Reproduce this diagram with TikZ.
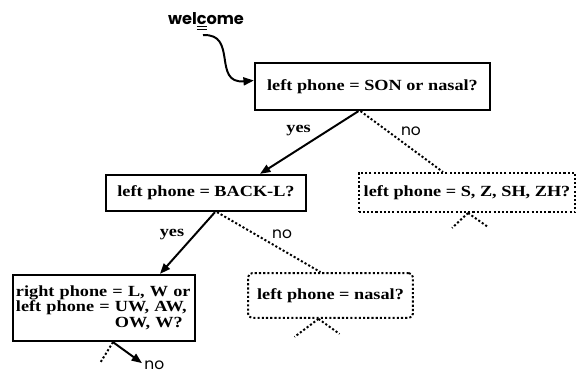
\documentclass[tikz,border=0pt]{standalone}
\usepackage{fontspec}
\usepackage{tikz}
\usetikzlibrary{arrows.meta,positioning,calc}
\setmainfont{Liberation Serif}
\newfontfamily\boxfont[FakeStretch=1.18]{Liberation Serif}
\newfontfamily\geofont{Poppins}
\tikzset{
  treearrow/.style={-{Triangle[length=2.6mm,width=2mm]}, line width=1.4pt},
  treedot/.style={line width=1.4pt, dash pattern=on 1.5pt off 1.5pt},
  yeslabel/.style={font=\fontsize{11}{12}\selectfont\boxfont\bfseries, inner sep=1pt},
  nolabel/.style={font=\fontsize{11}{12}\selectfont\geofont, inner sep=1pt}
}

\begin{document}
\begin{tikzpicture}[
  x=0.025cm, y=-0.025cm,
  font=\fontsize{11}{11}\selectfont\boxfont\bfseries,
  cell/.style={draw, line width=1.6pt, align=center, inner sep=2pt},
  opencell/.style={cell, treedot}
]
\useasboundingbox (0,0) rectangle (577,374);

\node[font=\fontsize{11.5}{13}\selectfont\geofont\bfseries, inner sep=0pt] at (206,21) (welcome)
  {wel\underline{\underline{c}}ome};
\node[cell, minimum width=5.875cm, minimum height=1.175cm] at (372.5,86.5) (son) {left phone = SON or nasal?};
\node[cell, minimum width=5cm, minimum height=0.9cm] at (206,193) (backl) {left phone = BACK-L?};
\node[opencell, minimum width=5.42cm, minimum height=0.975cm] at (467,192.5) (szsh) {left phone = S, Z, SH, ZH?};
\node[cell, align=left, minimum width=4.55cm, minimum height=1.65cm, text width=4.4cm] at (104,308) (right)
  {right phone = L, W or\\left phone = UW, AW,\\\phantom{left phone = }OW, W?};
\node[opencell, rounded corners=3pt, minimum width=4.12cm, minimum height=1.12cm] at (330.5,295.5) (nasal) {left phone = nasal?};

% entry into the tree
\coordinate (start) at ($(welcome.south)+(-3,5)$);
\draw[treearrow] (start) .. controls (238,33) and (212,84) .. ($(son.west)+(0,-6)$);

% branches of the top question
\draw[treearrow] ($(son.south)+(-14,0)$) -- node[yeslabel, pos=0.45, above left=1pt]{yes} ($(backl.north)+(54,0)$);
\draw[treedot] ($(son.south)+(-12,0)$) -- node[nolabel, pos=0.45, above right=1pt]{no} ($(szsh.north)+(-24,0)$);

% branches of BACK-L
\draw[treearrow] ($(backl.south)+(9,0)$) -- node[yeslabel, pos=0.5, above left=1pt]{yes} ($(right.north)+(56,0)$);
\draw[treedot] ($(backl.south)+(11,0)$) -- node[nolabel, pos=0.5, above right=1pt]{no} ($(nasal.north)+(-10,0)$);

% unexpanded subtrees (stubs)
\coordinate (szshL) at ($(szsh.south)+(-15,15)$);
\coordinate (szshR) at ($(szsh.south)+(21,14)$);
\draw[treedot] ($(szsh.south)+(1,0)$) -- (szshL);
\draw[treedot] ($(szsh.south)+(1,0)$) -- (szshR);
\coordinate (nasalL) at ($(nasal.south)+(-36,18)$);
\coordinate (nasalR) at ($(nasal.south)+(9,15)$);
\draw[treedot] ($(nasal.south)+(-12,0)$) -- (nasalL);
\draw[treedot] ($(nasal.south)+(-12,0)$) -- (nasalR);
\coordinate (rightL) at ($(right.south)+(-4,21)$);
\coordinate (rightR) at ($(right.south)+(38,21)$);
\draw[treedot] ($(right.south)+(9,0)$) -- (rightL);
\draw[treearrow] ($(right.south)+(9,0)$) -- (rightR) node[nolabel, below right=-3pt and 0pt]{no};
\end{tikzpicture}
\end{document}
